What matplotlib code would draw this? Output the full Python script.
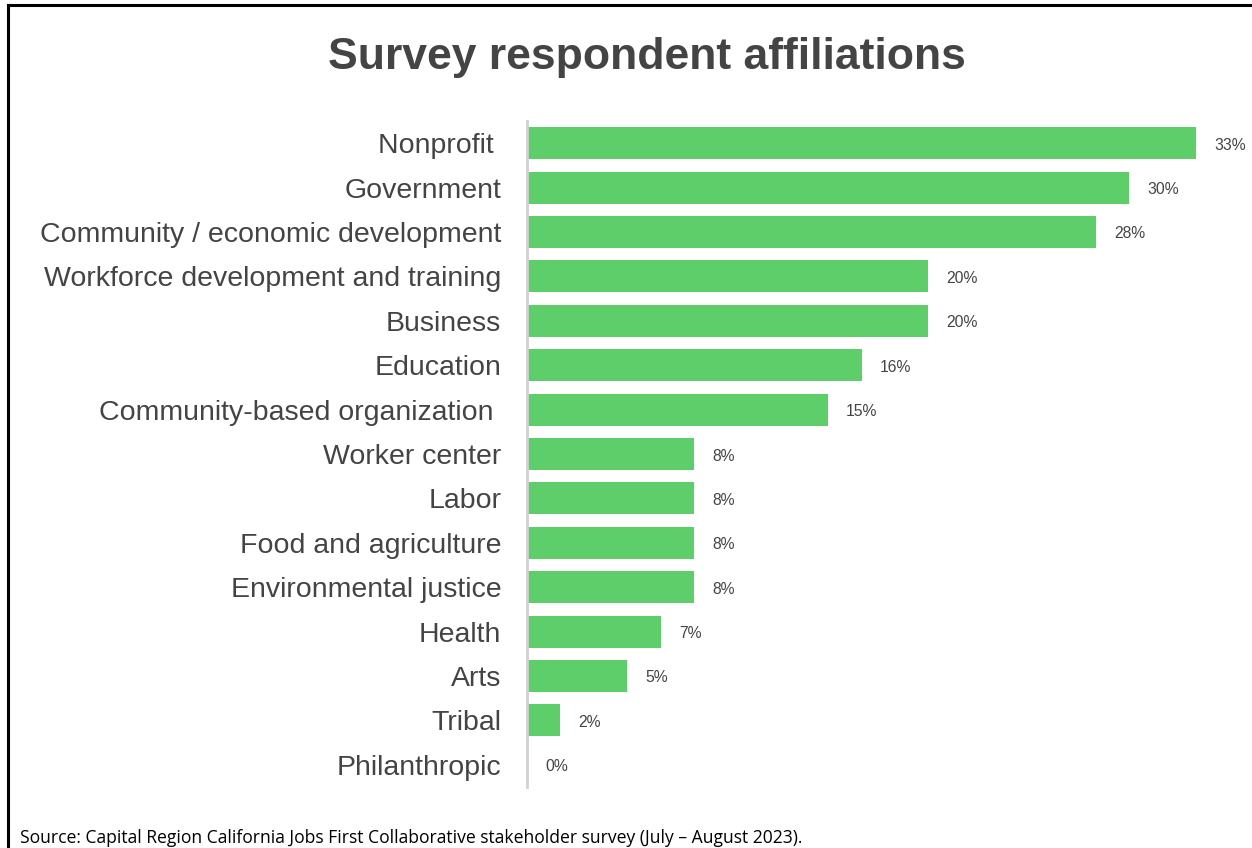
import matplotlib.pyplot as plt
from matplotlib.lines import Line2D

categories = ["Nonprofit ", "Government", "Community / economic development",
              "Workforce development and training", "Business", "Education",
              "Community-based organization ", "Worker center", "Labor",
              "Food and agriculture", "Environmental justice", "Health", "Arts",
              "Tribal", "Philanthropic"]
# respondent counts out of 61 total
counts = [20, 18, 17, 12, 12, 10, 9, 5, 5, 5, 5, 4, 3, 1, 0]
total = 61
shares = [c / total * 100 for c in counts]

title = "Survey respondent affiliations"
source = "Source: Capital Region California Jobs First Collaborative stakeholder survey (July \u2013 August 2023)."

bar_color = "#5ECE6A"
text_color = "#444444"

fig = plt.figure(figsize=(12.52, 8.48), dpi=100)
ax = fig.add_axes([527 / 1252, 1 - 787 / 848, 700 / 1252, (787 - 121) / 848])

y = list(range(len(categories)))
ax.barh(y, shares, height=0.72, color=bar_color)
ax.set_ylim(len(categories) - 0.5, -0.5)
ax.set_xlim(0, 34.3)

ax.set_yticks(y)
ax.set_yticklabels(categories, fontsize=20.5, color=text_color, family="Liberation Sans")
ax.tick_params(axis="y", length=0, pad=18.5)
ax.set_xticks([])

for s in ["top", "right", "bottom"]:
    ax.spines[s].set_visible(False)
ax.spines["left"].set_color("#d0d0d0")
ax.spines["left"].set_linewidth(2)

for yi, v in zip(y, shares):
    ax.annotate(f"{v:.0f}%", (v, yi), xytext=(18, -2), textcoords="offset pixels",
                va="center", ha="left", fontsize=11.3, color=text_color,
                family="Liberation Sans")

fig.text(647 / 1252, 1 - 57 / 848, title, ha="center", va="center", fontsize=32,
         fontweight="bold", color=text_color, family="Liberation Sans")
fig.text(20 / 1252, 1 - 838 / 848, source, ha="left", va="center", fontsize=12.65,
         color="black", family="Open Sans")

# frame around the figure (top and left edges)
fig.add_artist(Line2D([8 / 1252, 8 / 1252], [0, 1 - 5 / 848], color="black",
                      linewidth=2.2, transform=fig.transFigure))
fig.add_artist(Line2D([8 / 1252, 1], [1 - 5 / 848, 1 - 5 / 848], color="black",
                      linewidth=2.2, transform=fig.transFigure))

fig.savefig("out.png", dpi=100)
